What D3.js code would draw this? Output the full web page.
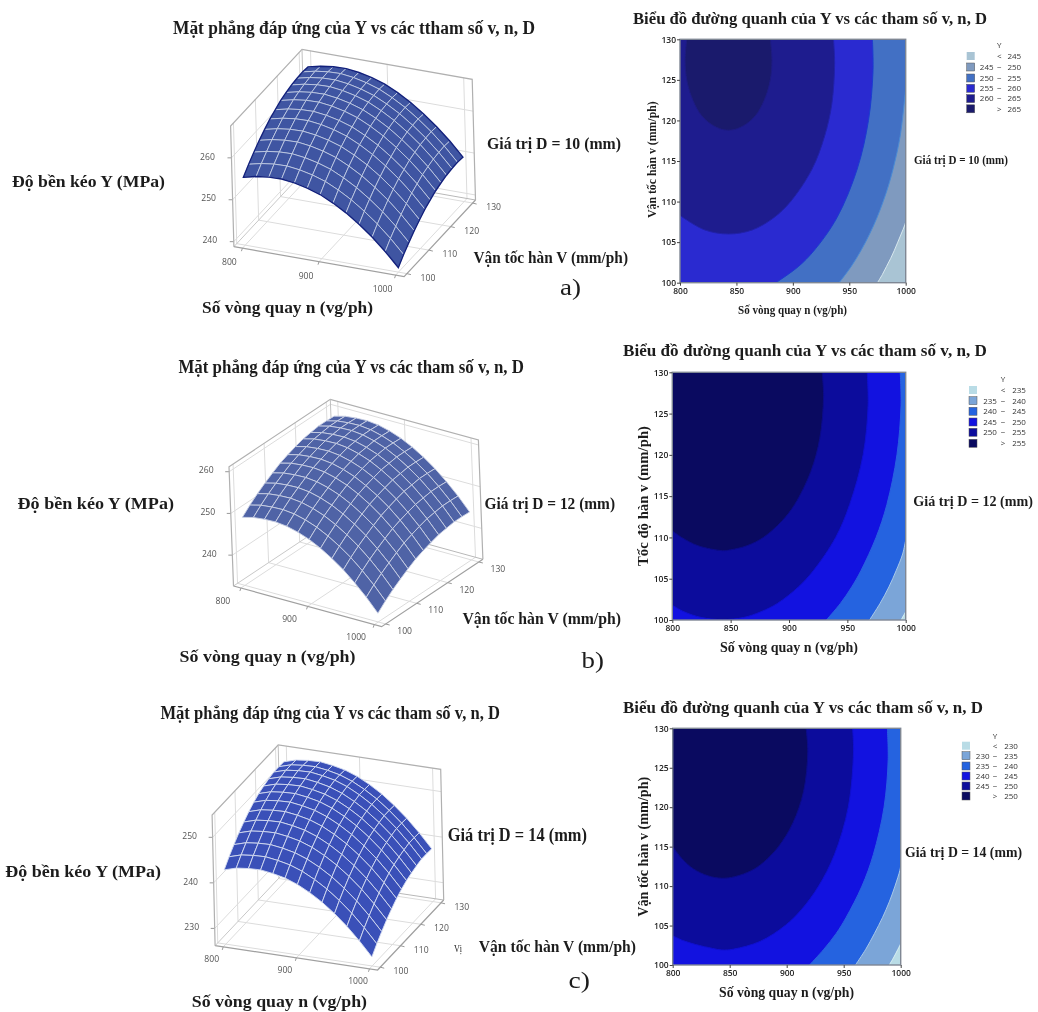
<!doctype html>
<html>
<head>
<meta charset="utf-8">
<style>
  body { margin: 0; background: #fff; }
  svg { display: block; filter: blur(0.45px); }
  .serif { font-family: "Liberation Serif", serif; fill: #1c1c1c; }
  .tick3d { font-family: "Open Sans", sans-serif; font-size: 8.6px; fill: #555; text-anchor: middle; }
  .axis2d text { font-family: "Open Sans", sans-serif; font-size: 8.5px; font-weight: 600; fill: #222; }
  .axis2d line { stroke: #444; }
  .legend text { font-family: "Open Sans", sans-serif; font-size: 8px; fill: #333; }
</style>
<script src="https://cdnjs.cloudflare.com/ajax/libs/d3/7.8.5/d3.min.js"></script>
</head>
<body>
<script>
// ---- data ----
var nTicks = [800, 900, 1000];
var vTicks = [100, 110, 120, 130];
var nTicks2d = [800, 850, 900, 950, 1000];
var vTicks2d = [100, 105, 110, 115, 120, 125, 130];

// mesh of the 3D surfaces: one row per v, one column per n
var nGrid = [800, 816.67, 833.33, 850, 866.67, 883.33, 900, 916.67, 933.33, 950, 966.67, 983.33, 1000];
var vGrid = [100, 102.5, 105, 107.5, 110, 112.5, 115, 117.5, 120, 122.5, 125, 127.5, 130];

var surfaceA = [
  [255.0,255.7,256.1,256.2,255.8,255.1,254.1,252.6,250.8,248.6,246.1,243.2,239.9],
  [256.7,257.4,257.8,257.9,257.5,256.8,255.8,254.3,252.5,250.3,247.8,244.9,241.6],
  [258.2,258.9,259.3,259.4,259.0,258.3,257.3,255.8,254.0,251.8,249.3,246.4,243.1],
  [259.6,260.3,260.7,260.8,260.4,259.7,258.7,257.2,255.4,253.2,250.7,247.8,244.5],
  [260.8,261.5,261.9,262.0,261.6,260.9,259.9,258.4,256.6,254.4,251.9,249.0,245.7],
  [261.9,262.6,263.0,263.1,262.7,262.0,261.0,259.5,257.7,255.5,253.0,250.1,246.8],
  [262.7,263.4,263.8,263.9,263.5,262.8,261.8,260.3,258.5,256.3,253.8,250.9,247.6],
  [263.5,264.2,264.6,264.7,264.3,263.6,262.6,261.1,259.3,257.1,254.6,251.7,248.4],
  [264.0,264.7,265.1,265.2,264.8,264.1,263.1,261.6,259.8,257.6,255.1,252.2,248.9],
  [264.4,265.1,265.5,265.6,265.2,264.5,263.5,262.0,260.2,258.0,255.5,252.6,249.3],
  [264.6,265.3,265.7,265.8,265.4,264.7,263.7,262.2,260.4,258.2,255.7,252.8,249.5],
  [264.7,265.4,265.8,265.9,265.5,264.8,263.8,262.3,260.5,258.3,255.8,252.9,249.6],
  [264.5,265.2,265.6,265.7,265.3,264.6,263.6,262.1,260.3,258.1,255.6,252.7,249.4]
];
var surfaceB = [
  [248.9,249.6,249.9,250.0,249.7,249.0,248.0,246.6,244.9,242.9,240.5,237.8,234.7],
  [250.6,251.3,251.6,251.7,251.4,250.7,249.7,248.3,246.6,244.6,242.2,239.5,236.4],
  [252.1,252.8,253.1,253.2,252.9,252.2,251.2,249.8,248.1,246.1,243.7,241.0,237.9],
  [253.4,254.1,254.4,254.5,254.2,253.5,252.5,251.1,249.4,247.4,245.0,242.3,239.2],
  [254.6,255.3,255.6,255.7,255.4,254.7,253.7,252.3,250.6,248.6,246.2,243.5,240.4],
  [255.7,256.4,256.7,256.8,256.5,255.8,254.8,253.4,251.7,249.7,247.3,244.6,241.5],
  [256.5,257.2,257.5,257.6,257.3,256.6,255.6,254.2,252.5,250.5,248.1,245.4,242.3],
  [257.2,257.9,258.2,258.3,258.0,257.3,256.3,254.9,253.2,251.2,248.8,246.1,243.0],
  [257.8,258.5,258.8,258.9,258.6,257.9,256.9,255.5,253.8,251.8,249.4,246.7,243.6],
  [258.1,258.8,259.1,259.2,258.9,258.2,257.2,255.8,254.1,252.1,249.7,247.0,243.9],
  [258.4,259.1,259.4,259.5,259.2,258.5,257.5,256.1,254.4,252.4,250.0,247.3,244.2],
  [258.4,259.1,259.4,259.5,259.2,258.5,257.5,256.1,254.4,252.4,250.0,247.3,244.2],
  [258.3,259.0,259.3,259.4,259.1,258.4,257.4,256.0,254.3,252.3,249.9,247.2,244.1]
];
var surfaceC = [
  [242.5,243.3,243.6,243.7,243.3,242.7,241.7,240.3,238.6,236.5,234.1,231.3,228.2],
  [244.2,245.0,245.3,245.4,245.0,244.4,243.4,242.0,240.3,238.2,235.8,233.0,229.9],
  [245.7,246.5,246.8,246.9,246.5,245.9,244.9,243.5,241.8,239.7,237.3,234.5,231.4],
  [247.1,247.9,248.2,248.3,247.9,247.3,246.3,244.9,243.2,241.1,238.7,235.9,232.8],
  [248.3,249.1,249.4,249.5,249.1,248.5,247.5,246.1,244.4,242.3,239.9,237.1,234.0],
  [249.4,250.2,250.5,250.6,250.2,249.6,248.6,247.2,245.5,243.4,241.0,238.2,235.1],
  [250.3,251.1,251.4,251.5,251.1,250.5,249.5,248.1,246.4,244.3,241.9,239.1,236.0],
  [251.0,251.8,252.1,252.2,251.8,251.2,250.2,248.8,247.1,245.0,242.6,239.8,236.7],
  [251.5,252.3,252.6,252.7,252.3,251.7,250.7,249.3,247.6,245.5,243.1,240.3,237.2],
  [251.9,252.7,253.0,253.1,252.7,252.1,251.1,249.7,248.0,245.9,243.5,240.7,237.6],
  [252.2,253.0,253.3,253.4,253.0,252.4,251.4,250.0,248.3,246.2,243.8,241.0,237.9],
  [252.2,253.0,253.3,253.4,253.0,252.4,251.4,250.0,248.3,246.2,243.8,241.0,237.9],
  [252.1,252.9,253.2,253.3,252.9,252.3,251.3,249.9,248.2,246.1,243.7,240.9,237.8]
];

// contour boundaries as [n, v], one list per level
var levelsA = [245, 250, 255, 260, 265];
var contoursA = [
  [[1000,107.5],[998.9,107],[996,106],[993,105],[990,104],[986.7,103],[983,102],[979.3,101],[975,100]],
  [[1000,124],[999.3,123],[997,120],[995,118],[992.2,116],[988.8,114],[984.8,112],[980,110],[974.5,108],[968,106],[960.5,104],[951.7,102],[941,100]],
  [[970.5,130],[971,126],[967,120],[957,114],[939,108],[919,104],[905,102],[885,100]],
  [[936,130],[937,127],[934.5,122],[928,118],[917,114],[898,110],[883,108],[864,106.5],[843,106],[822,106.5],[803,108],[800,108.3]],
  [[880,130],[881.5,127.4],[880,125],[876,123],[869,121],[861,119.8],[851,119],[843,118.8],[835,119],[825,119.8],[817,121],[810,123],[806,125],[804.5,127.4],[806,130]]
];
var levelsB = [235, 240, 245, 250, 255];
var contoursB = [
  [[1000,101],[998,100.5],[996,100]],
  [[1000,109.7],[997.4,108],[991.9,106],[985.6,104],[978,102],[969,100]],
  [[995.3,130],[996,126],[992.5,120],[983.9,114],[974.6,110],[961.7,106],[953.7,104],[944,102],[932,100]],
  [[967,130],[967.8,126],[963.5,120],[952,114],[940,110],[921,106],[908,104],[890,102],[876,101],[861,100.3],[843,100.05],[825,100.3],[810,101],[800,101.8]],
  [[928.4,130],[929.6,127],[926.4,122],[918.7,118],[904.9,114],[894,112],[878,110],[864,109],[850,108.5],[843,108.4],[822,109],[808,110],[800,110.8]]
];
var levelsC = [230, 235, 240, 245, 250];
var contoursC = [
  [[1000,102.7],[997.6,102],[994,101],[990,100]],
  [[1000,112.6],[999.3,112],[995,110],[990,108],[984,106],[977,104],[969.4,102],[960.3,100]],
  [[988.3,130],[989,126],[985.4,120],[976,114],[966,110],[952,106],[943.4,104],[932.6,102],[920,100]],
  [[957.8,130],[958.6,127],[954,120],[941.9,114],[928,110],[912.8,107],[898.6,105],[876.8,103],[853,102],[843,101.9],[835,102.1],[820,102.6],[809,103.1],[800,103.7]],
  [[917,130],[918.5,127],[914.8,122],[905.4,118],[892.8,115],[879.5,113],[869.5,112],[854.5,111.2],[843,111],[831,111.3],[818,112.2],[808,113.5],[800,115]]
];

// ---- colours ----
var bandsA = ["#a9c4d4", "#7f9abf", "#4270c4", "#2a2ad0", "#1e1c8e", "#1a1a6c"];
var linesA = ["#d8e8ee", "#4a8ad4", "#1c3cd0", "#2222a8", "#1e1c80"];
var bandsB = ["#b9dce6", "#7ba5d8", "#2563e0", "#1212e0", "#0c0c9c", "#0a0a60"];
var linesB = ["#d8eef2", "#a8c8e8", "#2a60e0", "#1010d0", "#0c0c88"];

var svg = d3.select("body").append("svg").attr("width", 1038).attr("height", 1012);

function label(txt, x0, x1, yc, size, weight) {
  return svg.append("text").attr("class", "serif")
    .attr("x", x0).attr("y", yc).attr("dy", "0.35em")
    .attr("textLength", x1 - x0).attr("lengthAdjust", "spacingAndGlyphs")
    .style("font-size", size + "px").style("font-weight", weight || "bold")
    .text(txt);
}

function surface3d(p) {
  var nf = d3.scaleLinear().domain([800, 1000]).range([0.05, 0.95]);
  var vf = d3.scaleLinear().domain([100, 130]).range([0.04, 0.96]);
  var yf = d3.scaleLinear().domain(p.yDomain).range([0, 1]);

  function proj(a, b, c) {
    return [
      p.left[0] + (p.front[0] - p.left[0]) * a + (p.right[0] - p.front[0]) * b + p.lean * c,
      p.left[1] + (p.front[1] - p.left[1]) * a + (p.right[1] - p.front[1]) * b - p.height * c
    ];
  }
  var seg = d3.line();
  var g = svg.append("g");

  function stroke(pts, col, w) {
    g.append("path").attr("d", seg(pts)).attr("fill", "none").attr("stroke", col).attr("stroke-width", w);
  }

  // grid on the floor and the two back walls
  nTicks.forEach(function(n) {
    var a = nf(n);
    stroke([proj(a, 0, 0), proj(a, 1, 0), proj(a, 1, 1)], "#dcdcdc", 1);
  });
  vTicks.forEach(function(v) {
    var b = vf(v);
    stroke([proj(0, b, 0), proj(1, b, 0)], "#dcdcdc", 1);
    stroke([proj(0, b, 0), proj(0, b, 1)], "#dcdcdc", 1);
  });
  p.yTicks.forEach(function(y) {
    var c = yf(y);
    stroke([proj(0, 0, c), proj(0, 1, c), proj(1, 1, c)], "#dcdcdc", 1);
    stroke([proj(0, 0, c), [proj(0, 0, c)[0] - 4, proj(0, 0, c)[1]]], "#999", 1);
    var q = proj(0, 0, c);
    g.append("text").attr("class", "tick3d").attr("x", q[0] + p.yOff).attr("y", q[1]).attr("dy", "0.2em").text(y);
  });

  // box edges
  stroke([proj(0, 1, 0), proj(1, 1, 0)], "#b8b8b8", 1);
  stroke([proj(0, 0, 0), proj(0, 1, 0)], "#c8c8c8", 1);
  stroke([proj(0, 0, 0), proj(1, 0, 0), proj(1, 1, 0)], "#a0a0a0", 1.2);
  stroke([proj(0, 0, 0), proj(0, 0, 1), proj(0, 1, 1), proj(1, 1, 1), proj(1, 1, 0)], "#b0b0b0", 1.2);
  stroke([proj(0, 1, 0), proj(0, 1, 1)], "#c0c0c0", 1);

  nTicks.forEach(function(n) {
    var q = proj(nf(n), 0, 0);
    stroke([q, [q[0] - 1, q[1] + 3]], "#999", 1);
    g.append("text").attr("class", "tick3d").attr("x", q[0] + p.nOff[0]).attr("y", q[1] + p.nOff[1]).attr("dy", "0.35em").text(n);
  });
  vTicks.forEach(function(v) {
    var q = proj(1, vf(v), 0);
    stroke([q, [q[0] + 4, q[1] + 1]], "#999", 1);
    g.append("text").attr("class", "tick3d").attr("x", q[0] + p.vOff[0]).attr("y", q[1] + p.vOff[1]).attr("dy", "0.35em").text(v);
  });

  // surface, painted from the back corner to the front corner
  var mesh = svg.append("g");
  for (var j = vGrid.length - 2; j >= 0; j--) {
    for (var i = 0; i < nGrid.length - 1; i++) {
      var quad = [[i, j], [i + 1, j], [i + 1, j + 1], [i, j + 1]].map(function(k) {
        return proj(nf(nGrid[k[0]]), vf(vGrid[k[1]]), yf(p.values[k[1]][k[0]]));
      });
      mesh.append("path").attr("d", seg(quad) + "Z")
        .attr("fill", p.fill).attr("stroke", p.mesh).attr("stroke-width", p.meshWidth).attr("stroke-linejoin", "round");
    }
  }
  // outline of the surface
  if (p.outline) {
    var edge = [];
    var last = nGrid.length - 1, top = vGrid.length - 1;
    nGrid.forEach(function(n, i) { edge.push(proj(nf(n), vf(100), yf(p.values[0][i]))); });
    vGrid.forEach(function(v, j) { edge.push(proj(nf(1000), vf(v), yf(p.values[j][last]))); });
    nGrid.slice().reverse().forEach(function(n, i) { edge.push(proj(nf(n), vf(130), yf(p.values[top][last - i]))); });
    vGrid.slice().reverse().forEach(function(v, j) { edge.push(proj(nf(800), vf(v), yf(p.values[top - j][0]))); });
    mesh.append("path").attr("d", seg(edge) + "Z").attr("fill", "none").attr("stroke", p.outline).attr("stroke-width", 1.4);
  }
}

function contour2d(p, id) {
  var x = d3.scaleLinear().domain([800, 1000]).range([p.x0, p.x1]);
  var y = d3.scaleLinear().domain([100, 130]).range([p.y1, p.y0]);
  var line = d3.line().x(function(d) { return x(d[0]); }).y(function(d) { return y(d[1]); })
    .curve(d3.curveCatmullRom.alpha(0.5));

  svg.append("clipPath").attr("id", id).append("rect")
    .attr("x", p.x0).attr("y", p.y0).attr("width", p.x1 - p.x0).attr("height", p.y1 - p.y0);
  var g = svg.append("g").attr("clip-path", "url(#" + id + ")");

  g.append("rect").attr("x", p.x0).attr("y", p.y0).attr("width", p.x1 - p.x0).attr("height", p.y1 - p.y0)
    .attr("fill", p.bands[0]);

  p.contours.forEach(function(pts, k) {
    var first = pts[0], end = pts[pts.length - 1];
    var corners = [];
    if (end[1] == 100) corners.push([800, 100]);
    if (end[1] != 130) corners.push([800, 130]);
    if (first[0] == 1000) corners.push([1000, 130]);
    var d = line(pts) + corners.map(function(c) { return "L" + x(c[0]) + "," + y(c[1]); }).join("") + "Z";
    g.append("path").attr("d", d).attr("fill", p.bands[k + 1]);
    g.append("path").attr("d", line(pts)).attr("fill", "none").attr("stroke", p.lines[k]).attr("stroke-width", 1);
  });

  svg.append("rect").attr("x", p.x0).attr("y", p.y0).attr("width", p.x1 - p.x0).attr("height", p.y1 - p.y0)
    .attr("fill", "none").attr("stroke", "#7f8794").attr("stroke-width", 1.4);

  var ax = svg.append("g").attr("class", "axis2d").attr("transform", "translate(0," + p.y1 + ")")
    .call(d3.axisBottom(x).tickValues(nTicks2d).tickFormat(d3.format("d")).tickSize(3).tickPadding(2));
  var ay = svg.append("g").attr("class", "axis2d").attr("transform", "translate(" + p.x0 + ",0)")
    .call(d3.axisLeft(y).tickValues(vTicks2d).tickSize(3).tickPadding(1));
  ax.select(".domain").remove();
  ay.select(".domain").remove();

  // legend
  var lg = svg.append("g").attr("class", "legend");
  lg.append("text").attr("x", p.lgX + p.lgDash).attr("y", p.lgY[0] - (p.lgY[1] - p.lgY[0])).attr("dy", "0.35em").attr("text-anchor", "middle").text("Y");
  p.bands.forEach(function(c, i) {
    var yc = p.lgY[i];
    lg.append("rect").attr("x", p.lgX).attr("y", yc - 4).attr("width", 8).attr("height", 8)
      .attr("fill", c).attr("stroke", i == 0 ? "none" : "#555").attr("stroke-width", 0.5);
    function put(dx, t) {
      lg.append("text").attr("x", p.lgX + dx).attr("y", yc).attr("dy", "0.35em").attr("text-anchor", "middle").text(t);
    }
    if (i == 0) { put(p.lgDash, "<"); put(p.lgHigh, p.levels[0]); }
    else if (i == p.bands.length - 1) { put(p.lgDash, ">"); put(p.lgHigh, p.levels[i - 1]); }
    else { put(p.lgLow, p.levels[i - 1]); put(p.lgDash, "\u2212"); put(p.lgHigh, p.levels[i]); }
  });
}

// ---- row a ----
surface3d({
  values: surfaceA, yDomain: [238.8, 267.6], yTicks: [240, 250, 260],
  left: [233.9, 246.7], front: [404.1, 276.7], right: [475.5, 200], height: 120.7, lean: -3.3,
  fill: "#3f55a2", mesh: "#c6d0e6", meshWidth: 0.8, outline: "#12207c",
  yOff: -24, nOff: [-13, 14], vOff: [21, 4]
});
label("Mặt phẳng đáp ứng của Y vs các ttham số v, n, D", 173, 535, 28, 18.5);
label("Độ bền kéo Y (MPa)", 12, 165, 181.5, 16);
label("Giá trị D = 10 (mm)", 487, 621, 143, 16);
label("Vận tốc hàn V (mm/ph)", 473.5, 628, 257, 16);
label("Số vòng quay n (vg/ph)", 202, 373, 307, 16);
label("a)", 560, 581, 287, 23, "normal");

contour2d({
  x0: 680, x1: 905.7, y0: 39.3, y1: 282.7, contours: contoursA, levels: levelsA, bands: bandsA, lines: linesA,
  lgX: 966.7, lgY: [56, 67, 78, 88.3, 98.6, 108.8], lgLow: 20, lgDash: 32.6, lgHigh: 47.6
}, "clipA");
label("Biểu đồ đường quanh của Y vs các tham số  v, n, D", 633, 987, 18, 17.5);
label("Giá trị D = 10 (mm)", 914, 1008, 160, 11.5);
label("Số vòng quay n (vg/ph)", 738, 847, 309.5, 11.5);
label("Vận tốc hàn v (mm/ph)", 0, 116.7, 0, 11.5).attr("transform", "translate(651.7,218) rotate(-90)");

// ---- row b ----
surface3d({
  values: surfaceB, yDomain: [232.6, 261.2], yTicks: [240, 250, 260],
  left: [233.5, 586], front: [381.6, 626.7], right: [482.9, 559.3], height: 119.3, lean: -4.5,
  fill: "#4f63a6", mesh: "#c9d0e4", meshWidth: 0.9, outline: null,
  yOff: -23, nOff: [-18, 12.5], vOff: [19, 7]
});
label("Mặt phẳng đáp ứng của Y vs các tham số v, n, D", 178.4, 524, 367, 18);
label("Độ bền kéo Y (MPa)", 17.5, 174, 503, 16);
label("Giá trị D = 12 (mm)", 484.5, 615, 503, 16);
label("Vận tốc hàn V (mm/ph)", 462.4, 621, 618, 16);
label("Số vòng quay n (vg/ph)", 179.6, 355.5, 656.7, 16);
label("b)", 581.6, 604, 660, 23, "normal");

contour2d({
  x0: 672.3, x1: 905.7, y0: 372.3, y1: 620, contours: contoursB, levels: levelsB, bands: bandsB, lines: linesB,
  lgX: 969, lgY: [390, 400.7, 411.3, 422, 432.3, 443.3], lgLow: 21, lgDash: 34, lgHigh: 50
}, "clipB");
label("Biểu đồ đường quanh của Y vs các tham số v, n, D", 623, 987, 350, 17.5);
label("Giá trị D = 12 (mm)", 913.3, 1033, 501, 14.5);
label("Số vòng quay n (vg/ph)", 720, 858, 647, 14.5);
label("Tốc độ hàn v (mm/ph)", 0, 140, 0, 14.5).attr("transform", "translate(642.7,566) rotate(-90)");

// ---- row c ----
surface3d({
  values: surfaceC, yDomain: [226.2, 254.9], yTicks: [230, 240, 250],
  left: [215.1, 945.7], front: [377.6, 970], right: [443.7, 900], height: 130.7, lean: -3,
  fill: "#3a50b8", mesh: "#d4dbf0", meshWidth: 0.9, outline: null,
  yOff: -23, nOff: [-11.5, 12.2], vOff: [20.7, 4]
});
label("Mặt phẳng đáp ứng của Y vs các tham số v, n, D", 160.4, 500, 712.7, 18);
label("Độ bền kéo Y (MPa)", 5.3, 161, 871.7, 16);
label("Giá trị D = 14 (mm)", 447.8, 587, 835, 18, "bold");
label("Vận tốc hàn V (mm/ph)", 478.8, 636, 946.7, 16);
label("Số vòng quay n (vg/ph)", 191.8, 367, 1001, 17);
label("Vị", 453.9, 462, 948, 10, "normal");
label("c)", 568.6, 590, 980, 23, "normal");

contour2d({
  x0: 672.7, x1: 900.7, y0: 728.3, y1: 965, contours: contoursC, levels: levelsC, bands: bandsB, lines: linesB,
  lgX: 962, lgY: [745.7, 755.7, 766, 776, 786, 796], lgLow: 20.7, lgDash: 33, lgHigh: 49
}, "clipC");
label("Biểu đồ đường quanh của Y vs các tham số  v, n, D", 623, 983, 707.3, 17.5);
label("Giá trị D = 14 (mm)", 905, 1022, 852.3, 14);
label("Số vòng quay n (vg/ph)", 719, 854, 991.7, 14);
label("Vận tốc hàn v (mm/ph)", 0, 140, 0, 14).attr("transform", "translate(643.3,916.7) rotate(-90)");
</script>
</body>
</html>
